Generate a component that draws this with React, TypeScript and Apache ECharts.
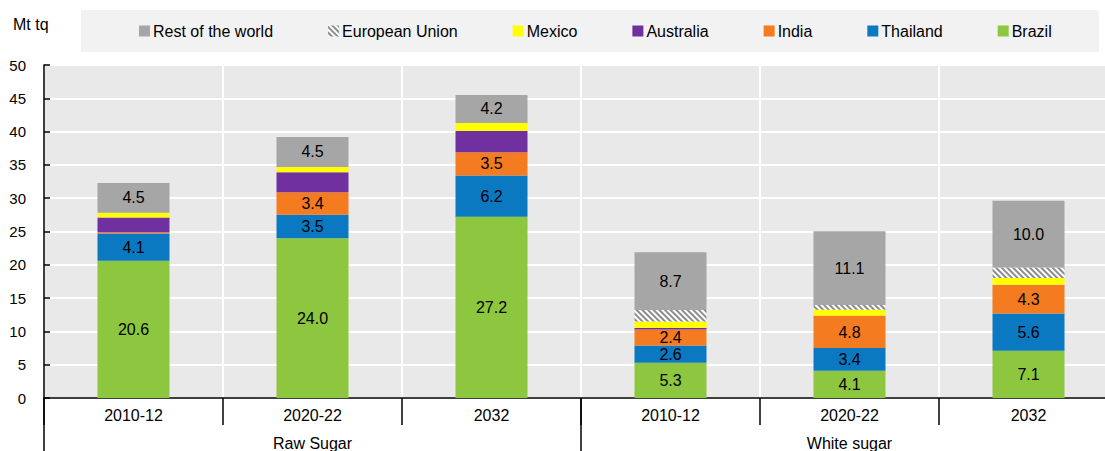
import React, { useEffect, useRef } from "react";
import * as echarts from "echarts";

const categories = ["2010-12", "2020-22", "2032", "2010-12", "2020-22", "2032"];
const groups = ["Raw Sugar", "White sugar"];
const yTicks = { min: 0, max: 50, interval: 5 };

const brazil = [20.6, 24.0, 27.2, 5.3, 4.1, 7.1];
const thailand = [4.1, 3.5, 6.2, 2.6, 3.4, 5.6];
const india = [0.2, 3.4, 3.5, 2.4, 4.8, 4.3];
const australia = [2.2, 3.0, 3.2, 0.2, 0.05, 0.0];
const mexico = [0.7, 0.8, 1.2, 1.0, 0.9, 1.0];
const eu = [0, 0, 0, 1.7, 0.7, 1.6];
const rest = [4.5, 4.5, 4.2, 8.7, 11.1, 10.0];

const legendOrder = ["Rest of the world", "European Union", "Mexico", "Australia", "India", "Thailand", "Brazil"];

const FONT = "'Liberation Sans', Arial, sans-serif";

export default function App() {
  const ref = useRef<HTMLDivElement>(null);
  useEffect(() => {
    document.body.style.margin = "0";
    if (!ref.current) return;
    const chart = echarts.init(ref.current, null, { renderer: "svg" });
    const labelOn = {
      show: true,
      position: "inside",
      color: "#000",
      fontSize: 16,
      fontFamily: FONT,
      formatter: (p: any) => (p.value >= 1 ? Number(p.value).toFixed(1) : ""),
    };
    const mk = (name: string, data: number[], color: string, label: boolean, extra: any = {}) => ({
      name,
      type: "bar",
      stack: "total",
      barWidth: 72,
      data,
      itemStyle: { color, ...extra },
      label: label ? labelOn : { show: false },
      emphasis: { disabled: true },
    });
    chart.setOption({
      animation: false,
      textStyle: { fontFamily: FONT },
      graphic: [
        {
          type: "rect",
          left: 81,
          top: 10,
          shape: { width: 1018, height: 42 },
          style: { fill: "#f2f2f2" },
          z: -1,
        },
        {
          type: "text",
          left: 13,
          top: 16,
          style: { text: "Mt tq", fontSize: 16, fontFamily: FONT, fill: "#000" },
        },
      ],
      legend: {
        data: legendOrder,
        left: 139,
        top: 23,
        padding: 0,
        itemWidth: 11,
        itemHeight: 11,
        itemGap: 55,
        icon: "rect",
        textStyle: { fontSize: 16, fontFamily: FONT, color: "#000", padding: [0, 0, 0, -2] },
        selectedMode: false,
      },
      grid: {
        left: 44,
        top: 65,
        width: 1074,
        height: 333,
        show: true,
        backgroundColor: "#e9e9e9",
        borderWidth: 0,
        containLabel: false,
      },
      xAxis: [
        {
          type: "category",
          data: categories,
          axisLine: { show: true, lineStyle: { color: "#000", width: 1.5 } },
          axisTick: { show: true, length: 27, lineStyle: { color: "#000", width: 1.5 } },
          axisLabel: { color: "#000", fontSize: 16, fontFamily: FONT, margin: 9 },
          splitLine: { show: true, lineStyle: { color: "#fff", width: 2 } },
        },
        {
          type: "category",
          data: groups,
          position: "bottom",
          axisLine: { show: false },
          axisTick: { show: true, length: 60, lineStyle: { color: "#000", width: 1.5 } },
          axisLabel: { color: "#000", fontSize: 16, fontFamily: FONT, margin: 37 },
          splitLine: { show: false },
        },
      ],
      yAxis: {
        type: "value",
        min: yTicks.min,
        max: yTicks.max,
        interval: yTicks.interval,
        axisLine: { show: true, lineStyle: { color: "#000", width: 1.5 } },
        axisTick: { show: true, inside: true, length: 6, lineStyle: { color: "#000", width: 1.5 } },
        axisLabel: { color: "#000", fontSize: 15, fontFamily: FONT, margin: 18 },
        splitLine: { show: true, lineStyle: { color: "#fff", width: 2 } },
      },
      series: [
        mk("Brazil", brazil, "#8dc63f", true),
        mk("Thailand", thailand, "#0a79c1", true),
        mk("India", india, "#f47b20", true),
        mk("Australia", australia, "#7030a0", false),
        mk("Mexico", mexico, "#ffff00", false),
        mk("European Union", eu, "#ffffff", false, {
          decal: {
            symbol: "rect",
            symbolSize: 1,
            dashArrayX: [1, 0],
            dashArrayY: [1.6, 1.4],
            rotation: Math.PI / 4,
            color: "#8c8c8c",
            backgroundColor: "#ffffff",
          },
        }),
        mk("Rest of the world", rest, "#a6a6a6", true),
      ],
    });
    return () => chart.dispose();
  }, []);
  return (
    <div style={{ width: 1105, height: 451, overflow: "hidden" }}>
      <div ref={ref} style={{ width: 1122, height: 451 }} />
    </div>
  );
}
